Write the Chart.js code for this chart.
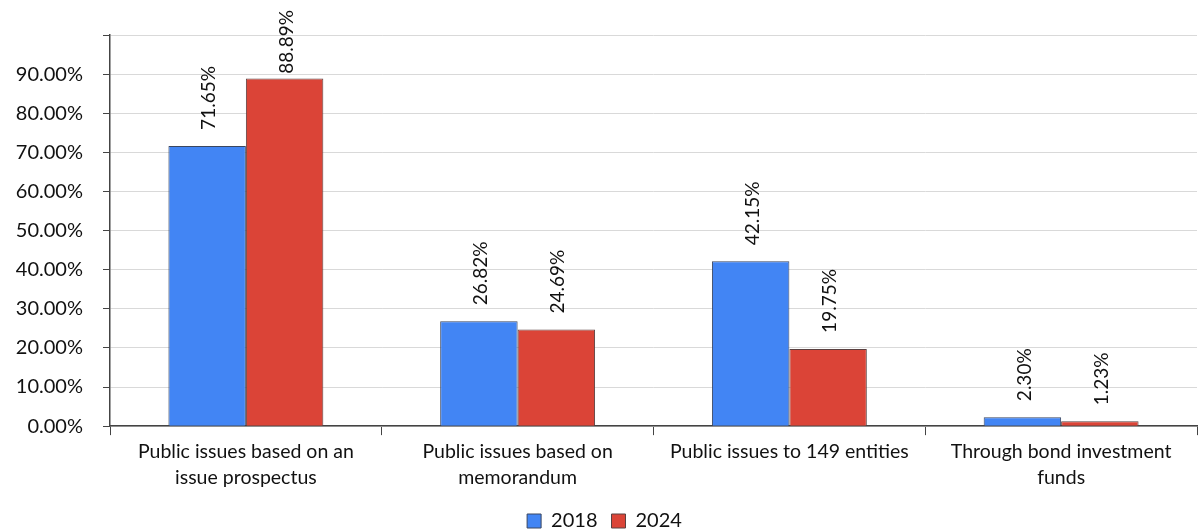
<!DOCTYPE html>
<html>
<head>
<meta charset="utf-8">
<script src="https://cdn.jsdelivr.net/npm/chart.js@4"></script>
<style>
  body { margin: 0; background: #fff; }
  #wrap { width: 1199px; height: 530px; position: relative; }
</style>
</head>
<body>
<div id="wrap"><canvas id="bondChart"></canvas></div>
<script>
// Issue types and share of each per year
const categories = [
  ['Public issues based on an', 'issue prospectus'],
  ['Public issues based on', 'memorandum'],
  'Public issues to 149 entities',
  ['Through bond investment', 'funds']
];
const share2018 = [71.65, 26.82, 42.15, 2.30];
const share2024 = [88.89, 24.69, 19.75, 1.23];
const yTicks = [0, 10, 20, 30, 40, 50, 60, 70, 80, 90, 100];

const FONT = 'Lato, "Noto Sans", sans-serif';

// value labels written vertically above each bar,
// pushed down when they would run off the top of the canvas
const barLabels = {
  id: 'barLabels',
  afterDatasetsDraw(chart) {
    const c = chart.ctx;
    c.save();
    c.font = '19px ' + FONT;
    c.fillStyle = '#111';
    c.textAlign = 'left';
    c.textBaseline = 'middle';
    chart.data.datasets.forEach((ds, i) => {
      chart.getDatasetMeta(i).data.forEach((bar, j) => {
        const txt = ds.data[j].toFixed(2) + '%';
        const w = c.measureText(txt).width;
        const y = Math.max(bar.y - 16, 10 + w);
        c.save();
        c.translate(bar.x + 2, y);
        c.rotate(-Math.PI / 2);
        c.fillText(txt, 0, 0);
        c.restore();
      });
    });
    c.restore();
  }
};

const ctx = document.getElementById('bondChart').getContext('2d');
new Chart(ctx, {
  type: 'bar',
  data: {
    labels: categories,
    datasets: [
      {
        label: '2018',
        data: share2018,
        backgroundColor: '#4285f4',
        borderColor: '#3a4660',
        borderWidth: 1,
        categoryPercentage: 0.57,
        barPercentage: 1.0
      },
      {
        label: '2024',
        data: share2024,
        backgroundColor: '#db4437',
        borderColor: '#5a4040',
        borderWidth: 1,
        categoryPercentage: 0.57,
        barPercentage: 1.0
      }
    ]
  },
  options: {
    responsive: true,
    maintainAspectRatio: false,
    animation: false,
    layout: { padding: { top: 35, right: 2, left: 12, bottom: -11 } },
    plugins: {
      tooltip: { enabled: false },
      legend: {
        position: 'bottom',
        labels: {
          font: { size: 20, family: FONT },
          color: '#111',
          boxWidth: 14,
          boxHeight: 14,
          padding: 14
        }
      }
    },
    scales: {
      x: {
        grid: {
          offset: true,
          drawOnChartArea: false,
          drawTicks: true,
          tickLength: 9,
          tickColor: '#444'
        },
        border: { color: '#444', width: 1.5 },
        ticks: {
          font: { size: 19.5, family: FONT, lineHeight: 1.33 },
          color: '#111',
          padding: 4,
          maxRotation: 0
        },
        // small gap between the category labels and the legend
        afterFit(axis) {
          axis.height += 2;
        }
      },
      y: {
        min: 0,
        max: 100,
        afterBuildTicks(axis) {
          axis.ticks = yTicks.map(v => ({ value: v }));
        },
        afterFit(axis) {
          axis.width = 98;
        },
        grid: {
          color: '#d9d9d9',
          tickColor: '#444',
          tickLength: 7
        },
        border: { color: '#444', width: 1.5 },
        ticks: {
          font: { size: 20, family: FONT },
          color: '#111',
          padding: 20,
          callback: v => (v === 100 ? '' : v.toFixed(2) + '%')
        }
      }
    }
  },
  plugins: [barLabels]
});
</script>
</body>
</html>
